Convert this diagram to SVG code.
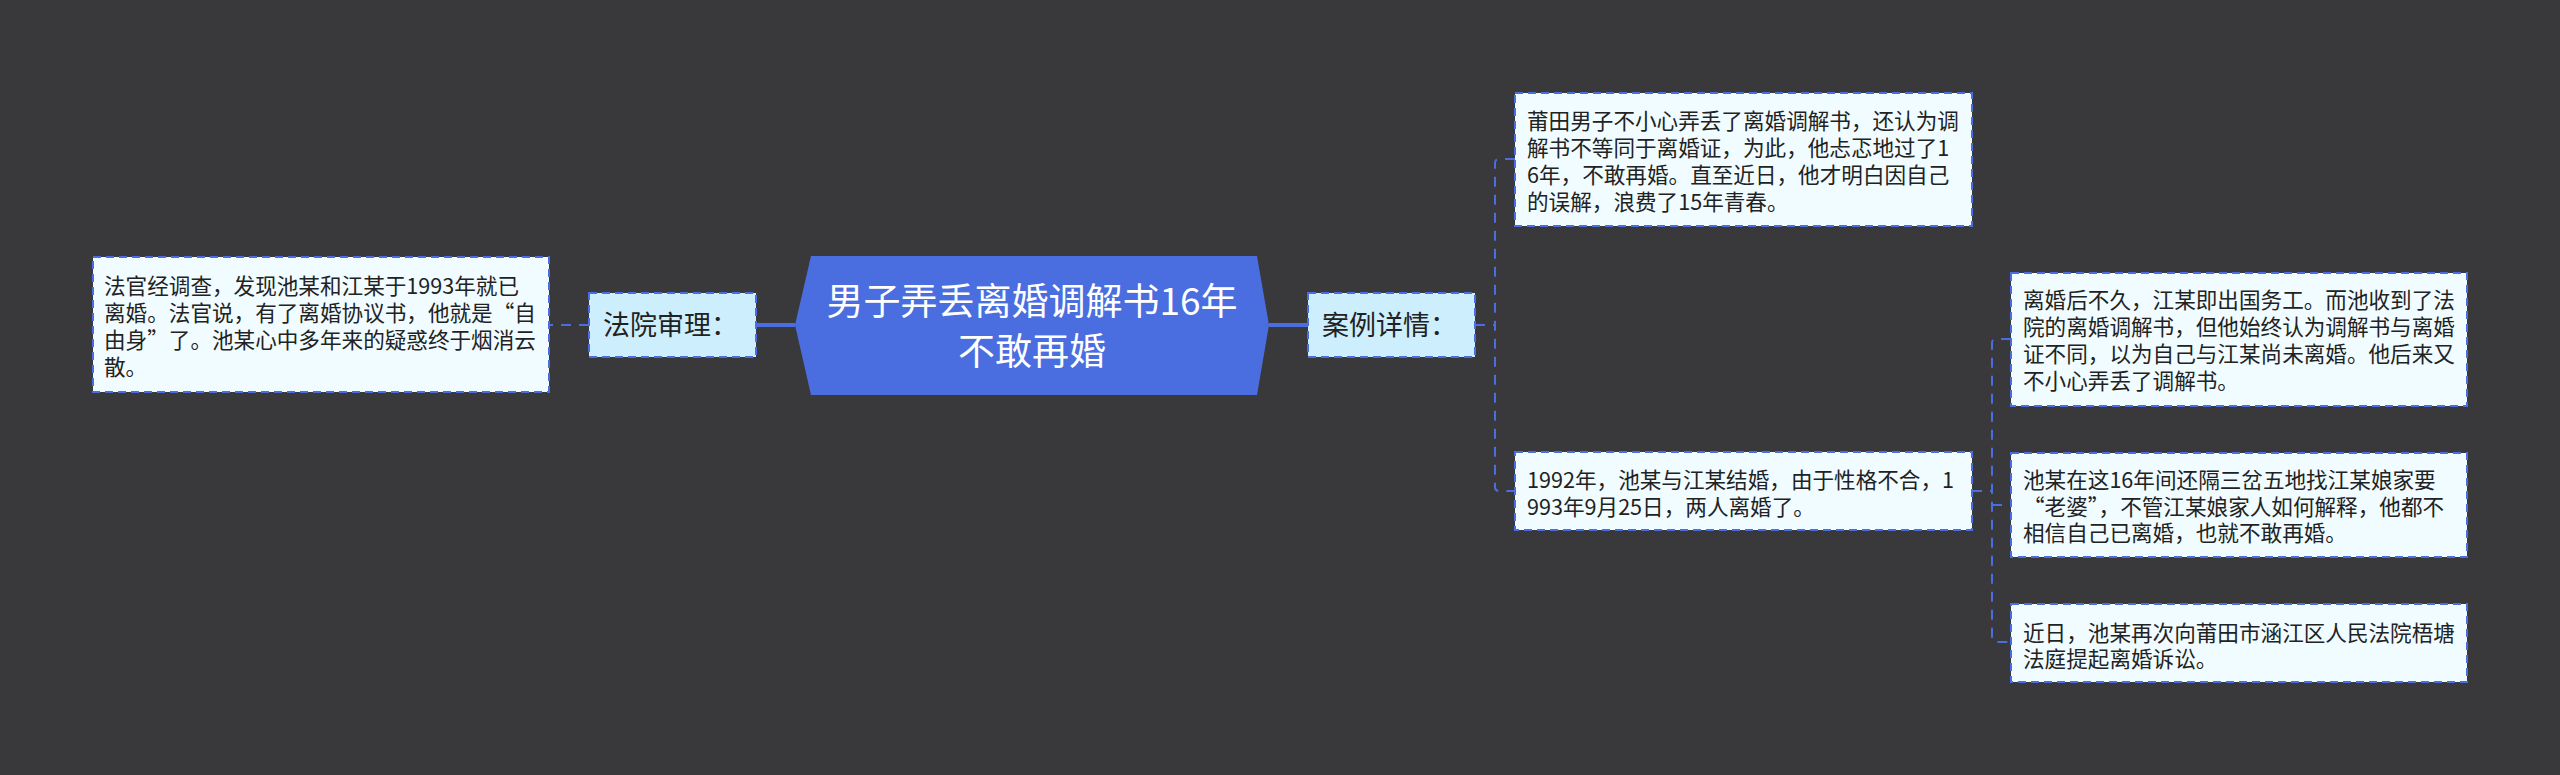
<svg xmlns="http://www.w3.org/2000/svg" width="2560" height="775" viewBox="0 0 2560 775">
<style>
.bg{fill:#39383a}
.leaf{fill:#f0fcff;stroke:#4a6ee0;stroke-width:2;stroke-dasharray:8 5}
.mid{fill:#cdeefc;stroke:#4a6ee0;stroke-width:2;stroke-dasharray:8 5}
.t{font-family:"Noto Sans CJK SC","Microsoft YaHei",sans-serif;font-size:21.6px;fill:#222}
.tm{font-family:"Noto Sans CJK SC","Microsoft YaHei",sans-serif;font-size:27px;fill:#222}
.tc{font-family:"Noto Sans CJK SC","Microsoft YaHei",sans-serif;font-size:37px;fill:#fff;text-anchor:middle}
.c1{fill:none;stroke:#4a6ee0;stroke-width:4;stroke-dasharray:50 8}
.c2{fill:none;stroke:#4a6ee0;stroke-width:2;stroke-dasharray:10 8}
</style>
<rect class="bg" x="0" y="0" width="2560" height="775"/>
<g id="connectors">
<path class="c1" d="M795 325 H756"/>
<path class="c2" d="M589 325 H549"/>
<path class="c1" d="M1269 325 H1308"/>
<path class="c2" d="M1475 325 H1495"/>
<path class="c2" d="M1515 159 H1499 Q1495 159 1495 163 V487 Q1495 491 1499 491 H1515"/>
<path class="c2" d="M1972 491 H1992"/>
<path class="c2" d="M2011 339 H1996 Q1992 339 1992 343 V638 Q1992 642 1996 642 H2011"/>
<path class="c2" d="M1992 505 H2011"/>
</g>
<g id="center">
<polygon points="811,256 1257,256 1269,325 1257,395 811,395 795,325" fill="#4a6ee0"/>
<text class="tc" x="1032" y="315">男子弄丢离婚调解书16年</text>
<text class="tc" x="1032" y="365">不敢再婚</text>
</g>
<g id="node-court">
<rect class="mid" x="589" y="293" width="167" height="64"/>
<text class="tm" x="603" y="335">法院审理：</text>
</g>
<g id="node-court-detail">
<rect class="leaf" x="93" y="257" width="456" height="135"/>
<text class="t" x="104" y="294">法官经调查，发现池某和江某于1993年就已</text>
<text class="t" x="104" y="321">离婚。法官说，有了离婚协议书，他就是“自</text>
<text class="t" x="104" y="348">由身”了。池某心中多年来的疑惑终于烟消云</text>
<text class="t" x="104" y="375">散。</text>
</g>
<g id="node-case">
<rect class="mid" x="1308" y="293" width="167" height="64"/>
<text class="tm" x="1322" y="335">案例详情：</text>
</g>
<g id="node-case-1">
<rect class="leaf" x="1515" y="93" width="457" height="133"/>
<text class="t" x="1527" y="129">莆田男子不小心弄丢了离婚调解书，还认为调</text>
<text class="t" x="1527" y="156">解书不等同于离婚证，为此，他忐忑地过了1</text>
<text class="t" x="1527" y="183">6年，不敢再婚。直至近日，他才明白因自己</text>
<text class="t" x="1527" y="210">的误解，浪费了15年青春。</text>
</g>
<g id="node-case-2">
<rect class="leaf" x="1515" y="452" width="457" height="78"/>
<text class="t" x="1527" y="488">1992年，池某与江某结婚，由于性格不合，1</text>
<text class="t" x="1527" y="515">993年9月25日，两人离婚了。</text>
</g>
<g id="node-case-2a">
<rect class="leaf" x="2011" y="273" width="456" height="133"/>
<text class="t" x="2023" y="308">离婚后不久，江某即出国务工。而池收到了法</text>
<text class="t" x="2023" y="335">院的离婚调解书，但他始终认为调解书与离婚</text>
<text class="t" x="2023" y="362">证不同，以为自己与江某尚未离婚。他后来又</text>
<text class="t" x="2023" y="389">不小心弄丢了调解书。</text>
</g>
<g id="node-case-2b">
<rect class="leaf" x="2011" y="453" width="456" height="104"/>
<text class="t" x="2023" y="488">池某在这16年间还隔三岔五地找江某娘家要</text>
<text class="t" x="2023" y="515">“老婆”，不管江某娘家人如何解释，他都不</text>
<text class="t" x="2023" y="541">相信自己已离婚，也就不敢再婚。</text>
</g>
<g id="node-case-2c">
<rect class="leaf" x="2011" y="604" width="456" height="78"/>
<text class="t" x="2023" y="641">近日，池某再次向莆田市涵江区人民法院梧塘</text>
<text class="t" x="2023" y="667">法庭提起离婚诉讼。</text>
</g>
</svg>
